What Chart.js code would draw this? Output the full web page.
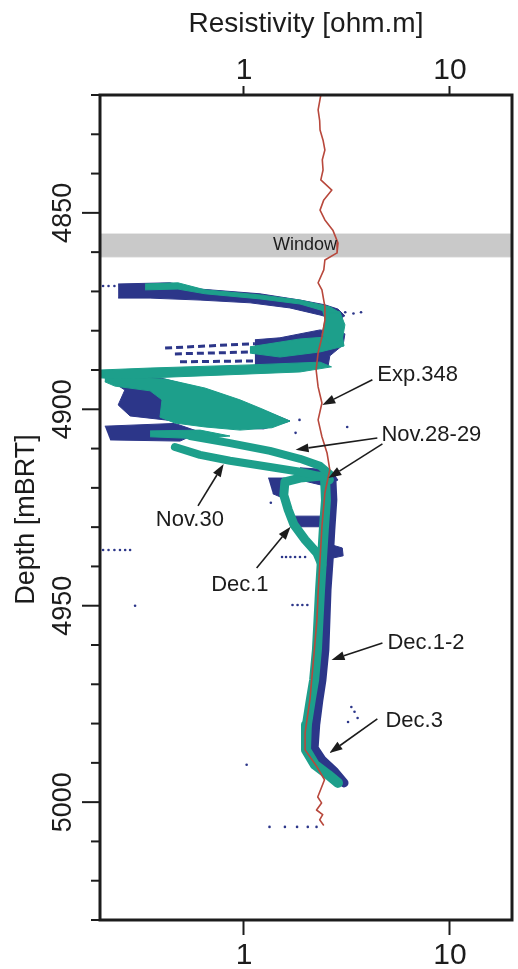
<!DOCTYPE html>
<html>
<head>
<meta charset="utf-8">
<script src="https://cdn.jsdelivr.net/npm/chart.js@4.4.1/dist/chart.umd.min.js"></script>
<style>
  html, body { margin: 0; padding: 0; background: #fff; }
</style>
</head>
<body>
<canvas id="logChart" width="518" height="969"></canvas>
<script>
// axis ranges + tick labels
var resMin = 0.2, resMax = 20;
var depthMin = 4820, depthMax = 5030;
var resTicks = [1, 10];
var depthLabels = [4850, 4900, 4950, 5000];

// gray "Window" interval
var windowDepth = [4855.4, 4861.2];

// Exp.348 log (red line)
var exp348Depth = [4820.0, 4823.8, 4826.5, 4828.9, 4831.5, 4834.0, 4836.5, 4839.1, 4841.6, 4844.2,
  4846.7, 4849.3, 4851.8, 4854.4, 4857.7, 4860.2, 4862.0, 4864.5, 4867.8, 4869.6, 4873.9, 4877.3,
  4881.6, 4885.6, 4890.0, 4894.3, 4898.4, 4902.7, 4907.0, 4911.1, 4915.4, 4921.3, 4929.9, 4938.3,
  4946.7, 4953.6, 4965.5, 4973.9, 4982.3, 4986.7, 4991.0, 4994.3, 4998.7, 5000.2, 5002.0, 5003.2,
  5004.5, 5005.8];
var exp348Res = [2.36, 2.29, 2.33, 2.34, 2.42, 2.47, 2.40, 2.42, 2.36, 2.67,
  2.44, 2.34, 2.47, 2.70, 2.86, 2.83, 2.47, 2.44, 2.29, 2.39, 2.47, 2.47,
  2.39, 2.29, 2.24, 2.29, 2.39, 2.29, 2.39, 2.53, 2.61, 2.47, 2.39, 2.34,
  2.29, 2.26, 2.16, 2.09, 1.98, 1.98, 2.26, 2.46, 2.28, 2.38, 2.25, 2.41,
  2.33, 2.43];

// time-lapse clouds, [resistivity, depth] outlines
var navyA = [[0.245,4868.1],[0.437,4867.8],[0.612,4869.4],[1.196,4870.6],[1.87,4872.2],[2.47,4873.4],[2.86,4874.5],
  [3.09,4876.2],[2.86,4877.3],[2.34,4876.0],[1.67,4874.2],[1.07,4872.9],[0.612,4872.2],[0.35,4871.7],[0.245,4871.7]];
var tealA = [[0.331,4868.1],[0.478,4867.8],[0.647,4869.6],[1.196,4870.9],[1.87,4872.2],[2.61,4873.9],[2.92,4875.4],
  [2.61,4875.4],[1.87,4873.2],[1.196,4871.9],[0.647,4870.6],[0.478,4869.4],[0.331,4869.6]];
var tealA2 = [[2.39,4874.7],[2.92,4875.2],[3.09,4878.5],[3.0,4882.3],[2.61,4883.6],[2.39,4881.1],[2.47,4877.3]];
var streaksB = [
  [[0.414,4884.4],[1.13,4883.3]],
  [[0.462,4885.9],[1.13,4885.4]],
  [[0.489,4887.9],[1.13,4887.7]]
];
var navyB = [[1.13,4882.3],[1.495,4881.8],[2.34,4879.8],[3.09,4880.8],[3.03,4883.6],[2.61,4886.4],[2.56,4889.0],[1.13,4889.5]];
var tealB = [[1.069,4884.1],[1.87,4882.1],[3.0,4881.3],[3.06,4883.9],[2.34,4885.4],[1.495,4886.7],[1.069,4885.7]];
var tealC = [[0.2,4890.0],[0.35,4889.5],[1.069,4888.7],[2.34,4888.0],[2.66,4889.2],[1.87,4890.5],[0.612,4891.5],[0.25,4892.3],[0.2,4892.0]];
var navyD = [[0.211,4891.3],[0.391,4892.0],[0.723,4895.6],[1.131,4899.4],[1.672,4903.0],[1.245,4905.0],[0.855,4904.7],
  [0.578,4903.5],[0.414,4902.7],[0.28,4901.7],[0.245,4898.9],[0.264,4895.1],[0.23,4893.0]];
var tealD = [[0.211,4891.8],[0.414,4892.3],[0.647,4894.6],[0.956,4897.6],[1.223,4899.9],[1.672,4903.0],[1.367,4904.7],
  [0.956,4905.3],[0.647,4904.5],[0.462,4903.5],[0.391,4902.0],[0.400,4897.6],[0.350,4895.3],[0.236,4894.1],[0.211,4893.0]];
var navyE = [[0.211,4904.3],[0.462,4903.6],[0.612,4905.8],[0.489,4908.1],[0.224,4907.8]];
var tealE = [[0.35,4905.5],[0.612,4905.3],[0.855,4906.8],[0.612,4907.5],[0.35,4907.0]];
var navyJoin = [[1.87,4914.9],[2.61,4915.4],[2.86,4918.0],[2.47,4919.5],[1.87,4918.0]];
var navyDec1a = [[1.31,4917.5],[1.58,4917.5],[1.546,4922.6],[1.38,4921.5]];
var navyDec1b = [[1.67,4927.2],[2.42,4927.2],[2.42,4929.9],[1.77,4929.9]];
var navySpur = [[2.47,4934.0],[3.0,4935.3],[3.03,4937.3],[2.47,4938.3]];

// traces drawn as thick lines
var nov2829 = [[0.547,4906.8],[0.855,4908.6],[1.337,4910.6],[1.87,4912.6],[2.34,4914.4],[2.61,4916.5]];
var nov30 = [[0.462,4909.6],[0.612,4911.6],[0.855,4913.1],[1.337,4914.7],[1.87,4915.9],[2.34,4917.0],[2.61,4918.0]];
var dec1 = [[2.39,4917.0],[1.87,4917.5],[1.58,4918.5],[1.56,4921.8],[1.64,4925.6],[1.75,4929.4],[1.98,4933.2],[2.26,4936.6],[2.39,4939.6]];
var lowerTeal = [[2.47,4916.7],[2.5,4923.1],[2.44,4930.7],[2.39,4938.3],[2.34,4946.0],[2.30,4953.6],[2.26,4961.2],
  [2.19,4968.9],[2.11,4974.0],[2.02,4980.3],[2.0,4986.7],[2.21,4990.5],[2.56,4993.0],[2.86,4995.1]];
var lowerNavy = [[2.67,4917.5],[2.7,4923.1],[2.64,4930.7],[2.59,4938.3],[2.53,4946.0],[2.5,4953.6],[2.47,4961.2],
  [2.39,4968.9],[2.31,4974.0],[2.23,4980.3],[2.19,4986.2],[2.39,4989.2],[2.76,4992.3],[3.06,4995.1]];

// loose readings
var strayDots = [[0.207,4935.8],[0.22,4935.8],[0.235,4935.8],[0.25,4935.8],[0.265,4935.8],[0.28,4935.8],
  [1.53,4937.6],[1.6,4937.6],[1.68,4937.6],[1.77,4937.6],[1.87,4937.6],[1.98,4937.6],
  [1.72,4949.8],[1.82,4949.8],[1.92,4949.8],[2.03,4949.8],[1.35,4923.8],
  [1.03,4990.5],[1.33,5006.3],[1.58,5006.3],[1.81,5006.3],[2.04,5006.3],[2.25,5006.3],
  [3.32,4975.8],[3.44,4977.0],[3.56,4978.6],[3.2,4979.6],
  [2.85,4875.3],[3.1,4875.3],[3.4,4875.6],[3.7,4875.3],
  [1.86,4902.7],[1.78,4906.0],[3.17,4904.5],
  [0.207,4868.6],[0.22,4868.6],[0.235,4868.6],[0.25,4868.6],[0.265,4868.6],[0.296,4950.0]];

// annotations: text [label, res, depth, align, size], arrows [res0, d0, res1, d1]
var noteText = [
  ['Window', 1.98, 4858.3, 'center', 18],
  ['Exp.348', 4.44, 4891.3, 'left', 22],
  ['Nov.28-29', 4.65, 4906.5, 'left', 22],
  ['Nov.30', 0.546, 4928.2, 'center', 22],
  ['Dec.1', 0.955, 4944.7, 'center', 22],
  ['Dec.1-2', 4.97, 4959.5, 'left', 22],
  ['Dec.3', 4.86, 4979.3, 'left', 22]
];
var noteArrows = [
  [4.20, 4892.5, 2.40, 4898.9],
  [4.44, 4907.3, 1.78, 4910.3],
  [4.70, 4908.8, 2.57, 4917.5],
  [0.598, 4924.6, 0.797, 4913.9],
  [1.152, 4940.4, 1.683, 4929.9],
  [4.70, 4959.5, 2.66, 4963.8],
  [4.44, 4978.8, 2.60, 4987.5]
];

var font = "'Liberation Sans', Arial, sans-serif";
var ink = '#1c1c1c';
var teal = '#1d9f8b';
var navy = '#2c3689';
var red = '#b8483c';

function pts(a) { return a.map(function(p){ return {x: p[0], y: p[1]}; }); }
function area(a, color, order) {
  return { data: pts(a), showLine: true, fill: 'shape', backgroundColor: color, borderColor: color,
    borderWidth: 1, pointRadius: 0, order: order };
}
function trace(a, color, width, order) {
  return { data: pts(a), showLine: true, fill: false, borderColor: color, borderWidth: width,
    borderJoinStyle: 'round', borderCapStyle: 'round', pointRadius: 0, order: order };
}

var windowBox = [[resMin, windowDepth[0]], [resMax, windowDepth[0]], [resMax, windowDepth[1]], [resMin, windowDepth[1]]];

var datasets = [
  trace(exp348Res.map(function(r, i){ return [r, exp348Depth[i]]; }), red, 1.6, 0),
  trace(nov2829, teal, 8, 1), trace(nov30, teal, 8, 1), trace(dec1, teal, 9, 1), trace(lowerTeal, teal, 10, 1),
  area(tealA, teal, 2), area(tealA2, teal, 2), area(tealB, teal, 2), area(tealC, teal, 2), area(tealD, teal, 2), area(tealE, teal, 2),
  trace(lowerNavy, navy, 9, 3),
  area(navyA, navy, 3), area(navyB, navy, 3), area(navyD, navy, 3), area(navyE, navy, 3),
  area(navyJoin, navy, 3), area(navyDec1a, navy, 3), area(navyDec1b, navy, 3), area(navySpur, navy, 3),
  { data: pts(strayDots), pointRadius: 1.3, pointBorderWidth: 0, pointBackgroundColor: navy, order: 4 },
  area(windowBox, '#c9c9c9', 5)
];
streaksB.forEach(function(s) {
  var d = trace(s, navy, 3, 3);
  d.borderDash = [7, 4];
  d.borderCapStyle = 'butt';
  datasets.push(d);
});

// labels + arrows in data coordinates
var notesPlugin = {
  id: 'notes',
  afterDatasetsDraw: function(chart) {
    var ctx = chart.ctx, x = chart.scales.x, y = chart.scales.y;
    ctx.save();
    ctx.fillStyle = ink;
    ctx.textBaseline = 'middle';
    noteText.forEach(function(n) {
      ctx.font = n[4] + 'px ' + font;
      ctx.textAlign = n[3];
      ctx.fillText(n[0], x.getPixelForValue(n[1]), y.getPixelForValue(n[2]));
    });
    ctx.strokeStyle = ink;
    ctx.lineWidth = 1.6;
    noteArrows.forEach(function(a) {
      var x0 = x.getPixelForValue(a[0]), y0 = y.getPixelForValue(a[1]);
      var x1 = x.getPixelForValue(a[2]), y1 = y.getPixelForValue(a[3]);
      var ang = Math.atan2(y1 - y0, x1 - x0), hl = 13, hw = 4.5;
      var bx = x1 - hl * Math.cos(ang), by = y1 - hl * Math.sin(ang);
      ctx.beginPath(); ctx.moveTo(x0, y0); ctx.lineTo(bx, by); ctx.stroke();
      ctx.beginPath();
      ctx.moveTo(x1, y1);
      ctx.lineTo(bx + hw * Math.sin(ang), by - hw * Math.cos(ang));
      ctx.lineTo(bx - hw * Math.sin(ang), by + hw * Math.cos(ang));
      ctx.closePath(); ctx.fill();
    });
    ctx.restore();
  }
};

// frame + depth axis (rotated labels)
var framePlugin = {
  id: 'frame',
  afterDraw: function(chart) {
    var ctx = chart.ctx, a = chart.chartArea, y = chart.scales.y;
    ctx.save();
    ctx.strokeStyle = ink;
    ctx.lineWidth = 2;
    for (var v = depthMin; v <= depthMax; v += 10) {
      var py = y.getPixelForValue(v);
      var len = depthLabels.indexOf(v) >= 0 ? 18 : 9;
      ctx.beginPath(); ctx.moveTo(a.left - len, py); ctx.lineTo(a.left, py); ctx.stroke();
    }
    ctx.lineWidth = 3;
    ctx.strokeRect(a.left, a.top, a.right - a.left, a.bottom - a.top);
    ctx.fillStyle = ink;
    ctx.textAlign = 'center';
    ctx.textBaseline = 'middle';
    ctx.font = '27px ' + font;
    depthLabels.forEach(function(v) {
      ctx.save();
      ctx.translate(a.left - 36, y.getPixelForValue(v));
      ctx.rotate(-Math.PI / 2);
      ctx.fillText(String(v), 0, 0);
      ctx.restore();
    });
    ctx.translate(27, (a.top + a.bottom) / 2 + 12);
    ctx.rotate(-Math.PI / 2);
    ctx.fillText('Depth [mBRT]', 0, 0);
    ctx.restore();
  }
};

function resAxis(pos, h, tl, pad) {
  return {
    type: 'logarithmic', position: pos, min: resMin, max: resMax,
    afterBuildTicks: function(s) { s.ticks = resTicks.map(function(v){ return {value: v}; }); },
    afterFit: function(s) { s.height = h; },
    border: { display: false },
    grid: { drawOnChartArea: false, tickLength: tl, tickWidth: 2, tickColor: ink },
    ticks: { color: ink, font: { family: font, size: 30 }, padding: pad, maxRotation: 0, autoSkip: false,
      callback: function(v) { return String(v); } }
  };
}

var xTop = resAxis('top', 95, 9, -3);
xTop.title = { display: true, text: 'Resistivity [ohm.m]', color: ink, font: { family: font, size: 28 }, padding: { top: 7, bottom: 0 } };

var ctx = document.getElementById('logChart').getContext('2d');
var logChart = new Chart(ctx, {
  type: 'scatter',
  data: { datasets: datasets },
  options: {
    responsive: false,
    animation: false,
    events: [],
    layout: { padding: 0 },
    plugins: { legend: { display: false }, tooltip: { enabled: false } },
    scales: {
      x: resAxis('bottom', 49, 15, 3),
      x2: xTop,
      y: { type: 'linear', position: 'left', min: depthMin, max: depthMax, reverse: true,
        afterFit: function(s) { s.width = 100; },
        ticks: { display: false }, grid: { display: false }, border: { display: false } },
      y2: { type: 'linear', position: 'right', min: depthMin, max: depthMax, reverse: true,
        afterFit: function(s) { s.width = 6; },
        ticks: { display: false }, grid: { display: false }, border: { display: false } }
    }
  },
  plugins: [notesPlugin, framePlugin]
});
</script>
</body>
</html>
